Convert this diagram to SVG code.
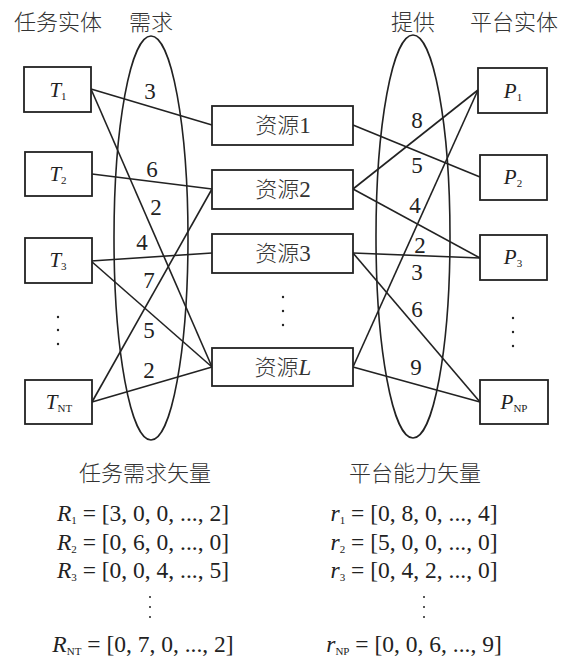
<svg xmlns="http://www.w3.org/2000/svg" width="564" height="659" viewBox="0 0 564 659">
<style>
.bx{fill:#fff;stroke:#222;stroke-width:1.8}
.ln{stroke:#222;stroke-width:1.6;fill:none}
.el{fill:none;stroke:#222;stroke-width:1.6}
.cjk{font-family:"Noto Sans CJK SC","Noto Sans CJK JP",sans-serif;font-size:22px;fill:#333;font-weight:300}
.num{font-family:"Liberation Serif",serif;font-size:23px;fill:#222}
.lab{font-family:"Liberation Serif",serif;font-size:21px;fill:#222;text-anchor:middle}
.it{font-style:italic}
.sb{font-size:11px}
.fm{font-family:"Liberation Serif",serif;font-size:23.5px;fill:#222;text-anchor:middle}
.dot{fill:#222}
</style>
<rect width="564" height="659" fill="#fff"/>
<g id="headers" class="cjk" text-anchor="middle">
<text x="58" y="30">任务实体</text>
<text x="151" y="30">需求</text>
<text x="413" y="30">提供</text>
<text x="514" y="30">平台实体</text>
</g>
<g id="ellipses">
<ellipse class="el" cx="151" cy="238" rx="37" ry="202"/>
<ellipse class="el" cx="413" cy="236.5" rx="37" ry="201.5"/>
</g>
<g id="connectors">
<line class="ln" x1="91" y1="89" x2="212" y2="125"/>
<line class="ln" x1="91" y1="89" x2="212" y2="367"/>
<line class="ln" x1="92" y1="174" x2="212" y2="189"/>
<line class="ln" x1="92" y1="402" x2="212" y2="189"/>
<line class="ln" x1="91" y1="261" x2="212" y2="253"/>
<line class="ln" x1="91" y1="261" x2="212" y2="367"/>
<line class="ln" x1="92" y1="402" x2="212" y2="367"/>
<line class="ln" x1="353" y1="125" x2="480" y2="177"/>
<line class="ln" x1="353" y1="189" x2="478" y2="90"/>
<line class="ln" x1="353" y1="189" x2="480" y2="258"/>
<line class="ln" x1="353" y1="253" x2="480" y2="258"/>
<line class="ln" x1="353" y1="253" x2="480" y2="402"/>
<line class="ln" x1="353" y1="367" x2="478" y2="90"/>
<line class="ln" x1="353" y1="367" x2="480" y2="402"/>
</g>
<g id="weights" class="num" text-anchor="middle">
<text x="150" y="99">3</text>
<text x="152" y="177">6</text>
<text x="156" y="215">2</text>
<text x="142" y="250">4</text>
<text x="149" y="288">7</text>
<text x="149" y="338">5</text>
<text x="149" y="378">2</text>
<text x="417" y="128">8</text>
<text x="417" y="173">5</text>
<text x="415" y="213">4</text>
<text x="420" y="253">2</text>
<text x="417" y="280">3</text>
<text x="417" y="317">6</text>
<text x="416" y="375">9</text>
</g>
<g id="T1"><rect class="bx" x="24" y="67" width="67" height="45"/><text class="lab" x="58" y="97"><tspan class="it">T</tspan><tspan class="sb" dy="3">1</tspan></text></g>
<g id="T2"><rect class="bx" x="25" y="152" width="67" height="44"/><text class="lab" x="58" y="181"><tspan class="it">T</tspan><tspan class="sb" dy="3">2</tspan></text></g>
<g id="T3"><rect class="bx" x="25" y="238" width="67" height="45"/><text class="lab" x="58" y="267"><tspan class="it">T</tspan><tspan class="sb" dy="3">3</tspan></text></g>
<g id="Tdots"><circle class="dot" cx="58" cy="317" r="1.2"/><circle class="dot" cx="58" cy="330" r="1.2"/><circle class="dot" cx="58" cy="344" r="1.2"/></g>
<g id="TNT"><rect class="bx" x="25" y="380" width="67" height="44"/><text class="lab" x="59" y="409"><tspan class="it">T</tspan><tspan class="sb" dy="3">NT</tspan></text></g>
<g id="R1"><rect class="bx" x="212" y="106" width="141" height="39"/><text class="cjk" x="283" y="133" text-anchor="middle">资源<tspan font-family="Liberation Serif" font-size="23">1</tspan></text></g>
<g id="R2"><rect class="bx" x="212" y="170" width="141" height="39"/><text class="cjk" x="283" y="197" text-anchor="middle">资源<tspan font-family="Liberation Serif" font-size="23">2</tspan></text></g>
<g id="R3"><rect class="bx" x="212" y="234" width="141" height="39"/><text class="cjk" x="283" y="261" text-anchor="middle">资源<tspan font-family="Liberation Serif" font-size="23">3</tspan></text></g>
<g id="Rdots"><circle class="dot" cx="283" cy="297" r="1.2"/><circle class="dot" cx="283" cy="311" r="1.2"/><circle class="dot" cx="283" cy="325" r="1.2"/></g>
<g id="RL"><rect class="bx" x="212" y="348" width="141" height="38"/><text class="cjk" x="283" y="375" text-anchor="middle">资源<tspan font-family="Liberation Serif" font-size="23" font-style="italic">L</tspan></text></g>
<g id="P1"><rect class="bx" x="478" y="68" width="69" height="45"/><text class="lab" x="513" y="98"><tspan class="it">P</tspan><tspan class="sb" dy="3">1</tspan></text></g>
<g id="P2"><rect class="bx" x="480" y="155" width="67" height="45"/><text class="lab" x="513" y="184"><tspan class="it">P</tspan><tspan class="sb" dy="3">2</tspan></text></g>
<g id="P3"><rect class="bx" x="480" y="235" width="67" height="45"/><text class="lab" x="513" y="264"><tspan class="it">P</tspan><tspan class="sb" dy="3">3</tspan></text></g>
<g id="Pdots"><circle class="dot" cx="513" cy="318" r="1.2"/><circle class="dot" cx="513" cy="332" r="1.2"/><circle class="dot" cx="513" cy="346" r="1.2"/></g>
<g id="PNP"><rect class="bx" x="480" y="380" width="68" height="44"/><text class="lab" x="514" y="409"><tspan class="it">P</tspan><tspan class="sb" dy="3">NP</tspan></text></g>
<g id="demand-vectors">
<text class="cjk" x="145" y="481" text-anchor="middle">任务需求矢量</text>
<text class="fm" x="143" y="521"><tspan class="it">R</tspan><tspan class="sb" dy="3">1</tspan><tspan dy="-3"> = [3, 0, 0, ..., 2]</tspan></text>
<text class="fm" x="143" y="550"><tspan class="it">R</tspan><tspan class="sb" dy="3">2</tspan><tspan dy="-3"> = [0, 6, 0, ..., 0]</tspan></text>
<text class="fm" x="143" y="578"><tspan class="it">R</tspan><tspan class="sb" dy="3">3</tspan><tspan dy="-3"> = [0, 0, 4, ..., 5]</tspan></text>
<circle class="dot" cx="150" cy="597" r="1"/><circle class="dot" cx="150" cy="607" r="1"/><circle class="dot" cx="150" cy="617" r="1"/>
<text class="fm" x="143" y="652"><tspan class="it">R</tspan><tspan class="sb" dy="3">NT</tspan><tspan dy="-3"> = [0, 7, 0, ..., 2]</tspan></text>
</g>
<g id="capability-vectors">
<text class="cjk" x="415" y="481" text-anchor="middle">平台能力矢量</text>
<text class="fm" x="414" y="521"><tspan class="it">r</tspan><tspan class="sb" dy="3">1</tspan><tspan dy="-3"> = [0, 8, 0, ..., 4]</tspan></text>
<text class="fm" x="414" y="550"><tspan class="it">r</tspan><tspan class="sb" dy="3">2</tspan><tspan dy="-3"> = [5, 0, 0, ..., 0]</tspan></text>
<text class="fm" x="414" y="578"><tspan class="it">r</tspan><tspan class="sb" dy="3">3</tspan><tspan dy="-3"> = [0, 4, 2, ..., 0]</tspan></text>
<circle class="dot" cx="424" cy="597" r="1"/><circle class="dot" cx="424" cy="607" r="1"/><circle class="dot" cx="424" cy="617" r="1"/>
<text class="fm" x="414" y="652"><tspan class="it">r</tspan><tspan class="sb" dy="3">NP</tspan><tspan dy="-3"> = [0, 0, 6, ..., 9]</tspan></text>
</g>
</svg>
